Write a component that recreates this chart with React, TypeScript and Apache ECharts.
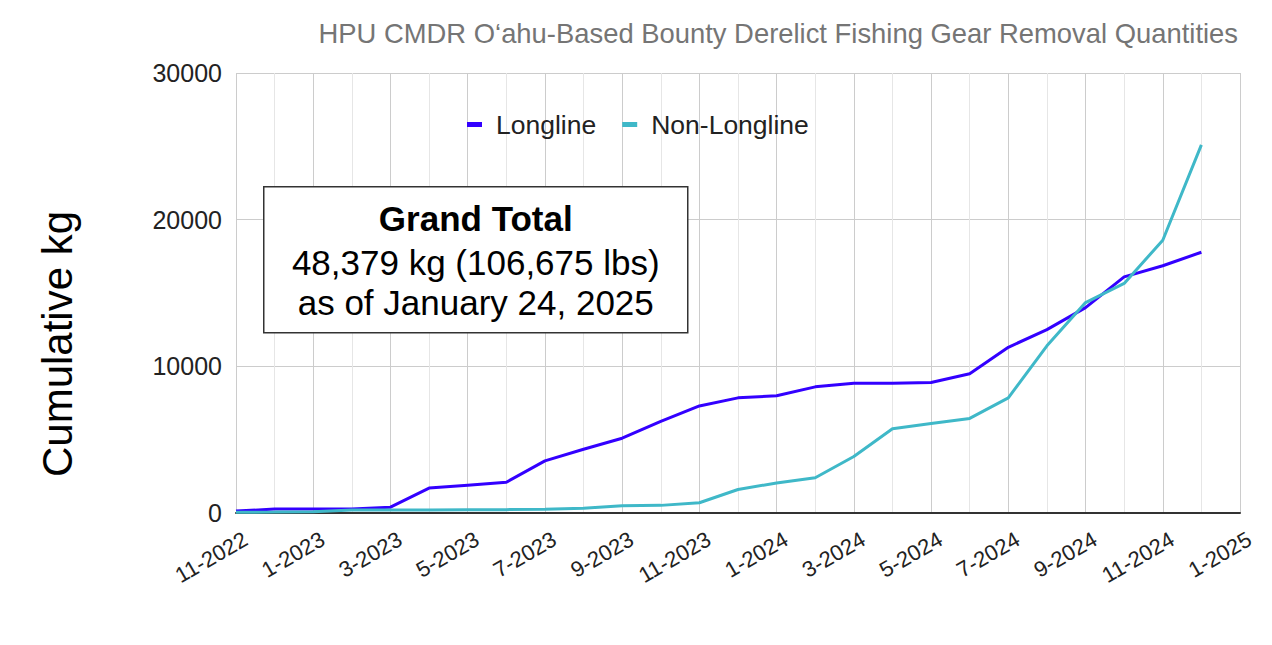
import React, { useEffect, useRef } from "react";
import * as echarts from "echarts";

const months = [
  "11-2022", "12-2022", "1-2023", "2-2023", "3-2023", "4-2023", "5-2023", "6-2023", "7-2023",
  "8-2023", "9-2023", "10-2023", "11-2023", "12-2023", "1-2024", "2-2024", "3-2024", "4-2024",
  "5-2024", "6-2024", "7-2024", "8-2024", "9-2024", "10-2024", "11-2024", "12-2024", "1-2025",
];

const longline = [
  130, 270, 270, 280, 400, 1700, 1900, 2100, 3550, 4350, 5100, 6250, 7300, 7850, 8000, 8600,
  8850, 8850, 8900, 9500, 11300, 12500, 14000, 16100, 16860, 17780, null,
];

const nonLongline = [
  50, 60, 80, 200, 200, 200, 220, 230, 250, 330, 500, 520, 700, 1600, 2050, 2400,
  3850, 5750, 6100, 6450, 7850, 11400, 14350, 15650, 18600, 25100, null,
];

const yTicks = [0, 10000, 20000, 30000];

const titleText = "HPU CMDR O\u2018ahu-Based Bounty Derelict Fishing Gear Removal Quantities";
const yAxisTitle = "Cumulative kg";
const boxLines = ["Grand Total", "48,379 kg (106,675 lbs)", "as of January 24, 2025"];

const FONT = "'Liberation Sans', Arial, sans-serif";

export default function App() {
  const ref = useRef<HTMLDivElement>(null);
  useEffect(() => {
    document.body.style.margin = "0";
    const chart = echarts.init(ref.current!, null, { renderer: "svg" });
    chart.setOption({
      animation: false,
      backgroundColor: "#ffffff",
      textStyle: { fontFamily: FONT },
      title: {
        text: titleText,
        right: 29,
        top: 15,
        textStyle: { fontSize: 27.4, fontWeight: "normal", color: "#757575", fontFamily: FONT },
      },
      legend: {
        left: 462,
        top: 106,
        itemWidth: 15,
        itemHeight: 5,
        itemGap: 26,
        icon: "rect",
        textStyle: { fontSize: 26.5, color: "#222", fontFamily: FONT, padding: [0, 0, 0, 9] },
        data: ["Longline", "Non-Longline"],
      },
      grid: { left: 236, right: 32, top: 73, bottom: 132, containLabel: false },
      xAxis: {
        type: "category",
        data: months,
        boundaryGap: false,
        axisLine: { lineStyle: { color: "#333", width: 2 } },
        axisTick: { show: false },
        axisLabel: {
          interval: 1,
          rotate: 30,
          fontSize: 22,
          color: "#222",
          margin: 30,
          padding: [0, -11, 0, 0],
          fontFamily: FONT,
        },
        splitLine: { show: true, interval: 0, lineStyle: { color: ["#cccccc", "#e6e6e6"], width: 1 } },
      },
      yAxis: {
        type: "value",
        min: yTicks[0],
        max: yTicks[yTicks.length - 1],
        interval: 10000,
        axisLine: { show: false },
        axisTick: { show: false },
        axisLabel: {
          fontSize: 25,
          color: "#222",
          margin: 14,
          fontFamily: FONT,
          formatter: (v: number) => String(v),
        },
        splitLine: { lineStyle: { color: "#cccccc", width: 1 } },
      },
      series: [
        {
          name: "Longline",
          type: "line",
          data: longline,
          showSymbol: false,
          symbol: "none",
          lineStyle: { color: "#3300ff", width: 3 },
          itemStyle: { color: "#3300ff" },
        },
        {
          name: "Non-Longline",
          type: "line",
          data: nonLongline,
          showSymbol: false,
          symbol: "none",
          lineStyle: { color: "#3fb8c8", width: 3 },
          itemStyle: { color: "#3fb8c8" },
        },
      ],
      graphic: [
        {
          type: "text",
          x: 57,
          y: 344,
          rotation: Math.PI / 2,
          z: 100,
          style: {
            text: yAxisTitle,
            font: `42px ${FONT}`,
            fill: "#000",
            align: "center",
            verticalAlign: "middle",
          },
        },
        {
          type: "group",
          left: 263,
          top: 186,
          z: 100,
          children: [
            {
              type: "rect",
              z: 100,
              shape: { x: 0, y: 0, width: 424, height: 146 },
              style: { fill: "#ffffff", stroke: "#333", lineWidth: 1.5 },
            },
            {
              type: "text",
              z: 101,
              x: 212,
              y: 32,
              style: {
                text: boxLines[0],
                font: `bold 35px ${FONT}`,
                fill: "#000",
                align: "center",
                verticalAlign: "middle",
              },
            },
            {
              type: "text",
              z: 101,
              x: 212,
              y: 76,
              style: {
                text: boxLines[1],
                font: `35px ${FONT}`,
                fill: "#000",
                align: "center",
                verticalAlign: "middle",
              },
            },
            {
              type: "text",
              z: 101,
              x: 212,
              y: 116,
              style: {
                text: boxLines[2],
                font: `35px ${FONT}`,
                fill: "#000",
                align: "center",
                verticalAlign: "middle",
              },
            },
          ],
        },
      ],
    });
    return () => chart.dispose();
  }, []);
  return <div ref={ref} style={{ width: 1272, height: 645 }} />;
}
